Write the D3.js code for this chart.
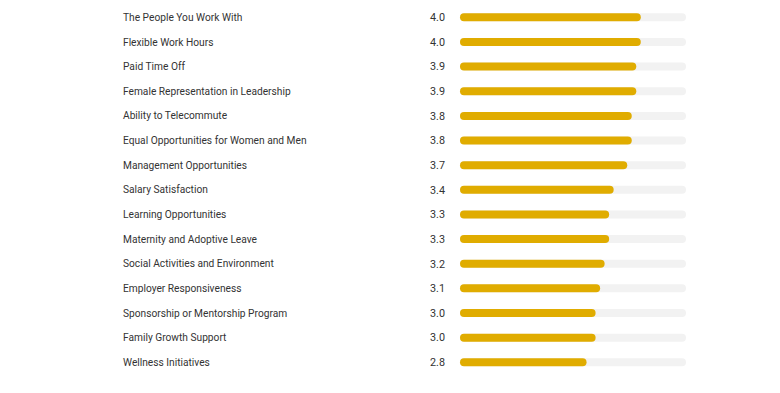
<!DOCTYPE html>
<html>
<head>
<meta charset="utf-8">
<script src="https://cdn.jsdelivr.net/npm/d3@7"></script>
<style>
  body { margin: 0; background: #fff; }
  text { font-family: Roboto, "Open Sans", sans-serif; }
</style>
</head>
<body>
<div id="chart"></div>
<script>
const categories = [
  "The People You Work With",
  "Flexible Work Hours",
  "Paid Time Off",
  "Female Representation in Leadership",
  "Ability to Telecommute",
  "Equal Opportunities for Women and Men",
  "Management Opportunities",
  "Salary Satisfaction",
  "Learning Opportunities",
  "Maternity and Adoptive Leave",
  "Social Activities and Environment",
  "Employer Responsiveness",
  "Sponsorship or Mentorship Program",
  "Family Growth Support",
  "Wellness Initiatives"
];
const ratings = [4.0, 4.0, 3.9, 3.9, 3.8, 3.8, 3.7, 3.4, 3.3, 3.3, 3.2, 3.1, 3.0, 3.0, 2.8];
const maxRating = 5;

let width = 780,
    height = 393;

let svg = d3.select("#chart").append("svg")
  .attr("width", width)
  .attr("height", height);

let x = d3.scaleLinear().domain([0, maxRating]).range([460, 686]);
let y = d3.scaleBand().domain(categories).range([5, 374.6]).padding(0);

const barH = 8;

let rows = svg.selectAll(".row").data(categories).enter().append("g")
  .classed("row", true)
  .attr("transform", d => "translate(0," + (y(d) + y.bandwidth() / 2) + ")");

rows.append("text")
  .attr("x", 123)
  .attr("dy", "0.35em")
  .attr("font-size", 10.2)
  .attr("fill", "#333")
  .text(d => d);

rows.append("text")
  .attr("x", 445)
  .attr("dy", "0.35em")
  .attr("text-anchor", "end")
  .attr("font-size", 10.8)
  .attr("fill", "#333")
  .text((d, i) => ratings[i].toFixed(1));

// background track
rows.append("rect")
  .attr("x", x(0))
  .attr("y", -barH / 2)
  .attr("width", x(maxRating) - x(0))
  .attr("height", barH)
  .attr("rx", barH / 2)
  .attr("fill", "#f2f2f2");

// value bar
rows.append("rect")
  .attr("x", x(0))
  .attr("y", -barH / 2)
  .attr("width", (d, i) => x(ratings[i]) - x(0))
  .attr("height", barH)
  .attr("rx", barH / 2)
  .attr("fill", "#e0ac00");
</script>
</body>
</html>
